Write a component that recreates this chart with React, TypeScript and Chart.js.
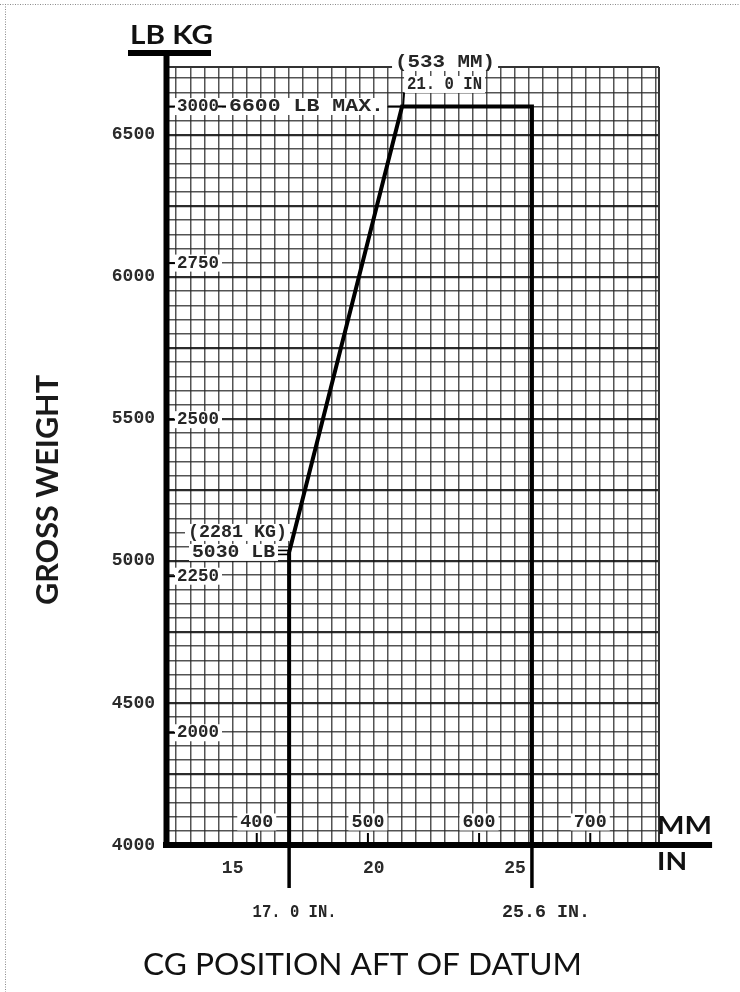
import React, { useEffect, useRef } from 'react';
import { Chart, registerables } from 'chart.js';

Chart.register(...registerables);

// ---- data ----
const envelopeIn = [17.0, 17.0, 21.0, 25.6, 25.6];
const envelopeLb = [4000, 5030, 6600, 6600, 4000];
const lbLabels = [4000, 4500, 5000, 5500, 6000, 6500];
const inLabels = [15, 20, 25];
const kgLabels = [2000, 2250, 2500, 2750, 3000];
const mmLabels = [400, 500, 600, 700];
const LB_PER_KG = 2.20462;
const MM_PER_IN = 25.4;
const xRange = [12.64, 30.1];
const yRange = [4000, 6739];
const axisEndIn = 31.98;

const MONO = "'Liberation Mono', 'DejaVu Sans Mono', monospace";
const SANS = "Lato, 'Noto Sans', sans-serif";

function fitText(
  ctx: CanvasRenderingContext2D,
  text: string,
  left: number,
  cy: number,
  width: number,
  font: string,
  color = '#262626'
) {
  ctx.save();
  ctx.font = font;
  const w = ctx.measureText(text).width;
  ctx.translate(left, cy);
  ctx.scale(width / w, 1);
  ctx.textAlign = 'left';
  ctx.textBaseline = 'middle';
  ctx.fillStyle = color;
  ctx.fillText(text, 0, 0);
  ctx.restore();
}

function boxText(
  ctx: CanvasRenderingContext2D,
  text: string,
  left: number,
  cy: number,
  width: number,
  font: string,
  h = 17
) {
  ctx.save();
  ctx.fillStyle = '#ffffff';
  ctx.fillRect(left - 3, cy - h / 2, width + 6, h);
  ctx.restore();
  fitText(ctx, text, left, cy, width, font);
}

function line(ctx: CanvasRenderingContext2D, x1: number, y1: number, x2: number, y2: number, w: number, color = '#000') {
  ctx.save();
  ctx.strokeStyle = color;
  ctx.lineWidth = w;
  ctx.lineCap = 'butt';
  ctx.beginPath();
  ctx.moveTo(x1, y1);
  ctx.lineTo(x2, y2);
  ctx.stroke();
  ctx.restore();
}

const decorPlugin = {
  id: 'decor',
  afterDraw(chart: any) {
    const { ctx, chartArea: a } = chart;
    const x = chart.scales.x;
    const y = chart.scales.y;
    const labFont = `bold 18px ${MONO}`;

    // dotted frame
    ctx.save();
    ctx.strokeStyle = '#8a8a8a';
    ctx.lineWidth = 1;
    ctx.setLineDash([1, 1.5]);
    ctx.beginPath();
    ctx.moveTo(0, 4.5);
    ctx.lineTo(740, 4.5);
    ctx.moveTo(5.5, 4);
    ctx.lineTo(5.5, 992);
    ctx.stroke();
    ctx.restore();

    // grid frame top / right
    line(ctx, a.left, a.top, a.right, a.top, 2, '#333');
    line(ctx, a.right, a.top, a.right, a.bottom, 2, '#333');

    // envelope extensions below the axis
    const x17 = x.getPixelForValue(envelopeIn[0]);
    const xAft = x.getPixelForValue(envelopeIn[envelopeIn.length - 1]);
    line(ctx, x17, a.bottom, x17, a.bottom + 43, 3.5);
    line(ctx, xAft, a.bottom, xAft, a.bottom + 43, 3.5);

    // main axes
    line(ctx, a.left + 0.5, 50, a.left + 0.5, a.bottom + 3, 6);
    line(ctx, a.left - 3, a.bottom, x.getPixelForValue(axisEndIn), a.bottom, 6);
    line(ctx, a.left - 38, 53, a.left + 45, 53, 6);

    // kg labels
    kgLabels.forEach((kg) => {
      const py = y.getPixelForValue(kg * LB_PER_KG) + 4;
      boxText(ctx, String(kg), a.left + 11, py, 42, labFont);
      line(ctx, a.left + 2, py, a.left + 9, py, 2);
    });

    // mm labels
    mmLabels.forEach((mm) => {
      const px = x.getPixelForValue(mm / MM_PER_IN) + 3;
      boxText(ctx, String(mm), px - 16.5, a.bottom - 23, 33, labFont);
      line(ctx, px, a.bottom - 12, px, a.bottom - 2, 2);
    });

    // max weight annotation
    const vx = x.getPixelForValue(envelopeIn[2]);
    const vy = y.getPixelForValue(envelopeLb[2]);
    boxText(ctx, '6600 LB MAX.', a.left + 63, vy, 155, labFont);
    line(ctx, a.left + 52, vy, a.left + 60, vy, 2);
    line(ctx, vx - 14, vy, vx, vy, 2);
    boxText(ctx, '(533 MM)', vx - 7, vy - 44, 100, labFont);
    boxText(ctx, '21. 0 IN', vx + 5, vy - 22, 75, labFont);
    line(ctx, vx + 2, vy - 14, vx + 1, vy, 2);

    // break point annotation
    const bx = x.getPixelForValue(envelopeIn[1]);
    const by = y.getPixelForValue(envelopeLb[1]);
    boxText(ctx, '(2281 KG)', a.left + 22, by - 20, 99, labFont);
    boxText(ctx, '5030 LB', a.left + 26, by, 83, labFont);
    line(ctx, a.left + 112, by - 2, bx, by - 2, 1.6);
    line(ctx, a.left + 112, by + 2, bx, by + 2, 1.6);

    // bottom value labels
    fitText(ctx, '17. 0 IN.', x17 - 36.5, a.bottom + 67, 84, labFont);
    fitText(ctx, '25.6 IN.', xAft - 30, a.bottom + 67, 88, labFont);

    // unit labels
    fitText(ctx, 'LB KG', a.left - 36, 35, 83, `bold 27px ${SANS}`, '#111');
    fitText(ctx, 'MM', x.getPixelForValue(axisEndIn) - 55, a.bottom - 19, 55, `bold 25px ${SANS}`, '#111');
    fitText(ctx, 'IN', x.getPixelForValue(axisEndIn) - 55, a.bottom + 17, 30, `bold 25px ${SANS}`, '#111');

    // axis titles
    fitText(ctx, 'CG POSITION AFT OF DATUM', 143, 965, 439, `30px ${SANS}`, '#111');
    ctx.save();
    ctx.translate(48, (a.top + a.bottom) / 2 + 34);
    ctx.rotate(-Math.PI / 2);
    fitText(ctx, 'GROSS WEIGHT', -115, 0, 230, `bold 31px ${SANS}`, '#1a1a1a');
    ctx.restore();
  },
};

export default function App() {
  const ref = useRef<HTMLCanvasElement | null>(null);

  useEffect(() => {
    if (!ref.current) return;
    const chart = new Chart(ref.current, {
      type: 'line',
      data: {
        datasets: [
          {
            data: envelopeIn.map((v, i) => ({ x: v, y: envelopeLb[i] })),
            borderColor: '#000',
            borderWidth: 4,
            pointRadius: 0,
            tension: 0,
            fill: false,
          },
        ],
      },
      options: {
        animation: false,
        responsive: false,
        devicePixelRatio: 1,
        layout: { padding: { left: 0, top: 67, right: 81, bottom: 0 } },
        plugins: { legend: { display: false }, tooltip: { enabled: false }, title: { display: false } },
        scales: {
          x: {
            type: 'linear',
            min: xRange[0],
            max: xRange[1],
            afterFit: (s: any) => {
              s.height = 147;
            },
            border: { display: false },
            grid: {
              drawTicks: false,
              color: 'rgba(40,40,40,0.8)',
              lineWidth: 1.5,
            },
            ticks: {
              stepSize: 0.5,
              includeBounds: false,
              autoSkip: false,
              maxRotation: 0,
              padding: 13,
              color: '#2b2b2b',
              font: { family: MONO, weight: 'bold', size: 18 },
              callback: (v: any) => (inLabels.includes(Number(v)) ? String(v) : ''),
            },
          },
          y: {
            type: 'linear',
            min: yRange[0],
            max: yRange[1],
            afterFit: (s: any) => {
              s.width = 166;
            },
            border: { display: false },
            grid: {
              drawTicks: false,
              color: (c: any) =>
                c.tick && Math.abs(c.tick.value % 250) < 1e-6 ? 'rgba(20,20,20,0.9)' : 'rgba(40,40,40,0.8)',
              lineWidth: (c: any) => (c.tick && Math.abs(c.tick.value % 250) < 1e-6 ? 2.2 : 1.5),
            },
            ticks: {
              stepSize: 50,
              includeBounds: false,
              autoSkip: false,
              padding: 11,
              color: '#2b2b2b',
              font: { family: MONO, weight: 'bold', size: 18 },
              callback: (v: any) => (lbLabels.includes(Number(v)) ? String(v) : ''),
            },
          },
        },
      },
      plugins: [decorPlugin],
    });
    return () => chart.destroy();
  }, []);

  return (
    <div style={{ position: 'absolute', left: 0, top: 0, width: 740, height: 992, background: '#fff' }}>
      <canvas ref={ref} width={740} height={992} style={{ display: 'block', width: 740, height: 992 }} />
    </div>
  );
}
